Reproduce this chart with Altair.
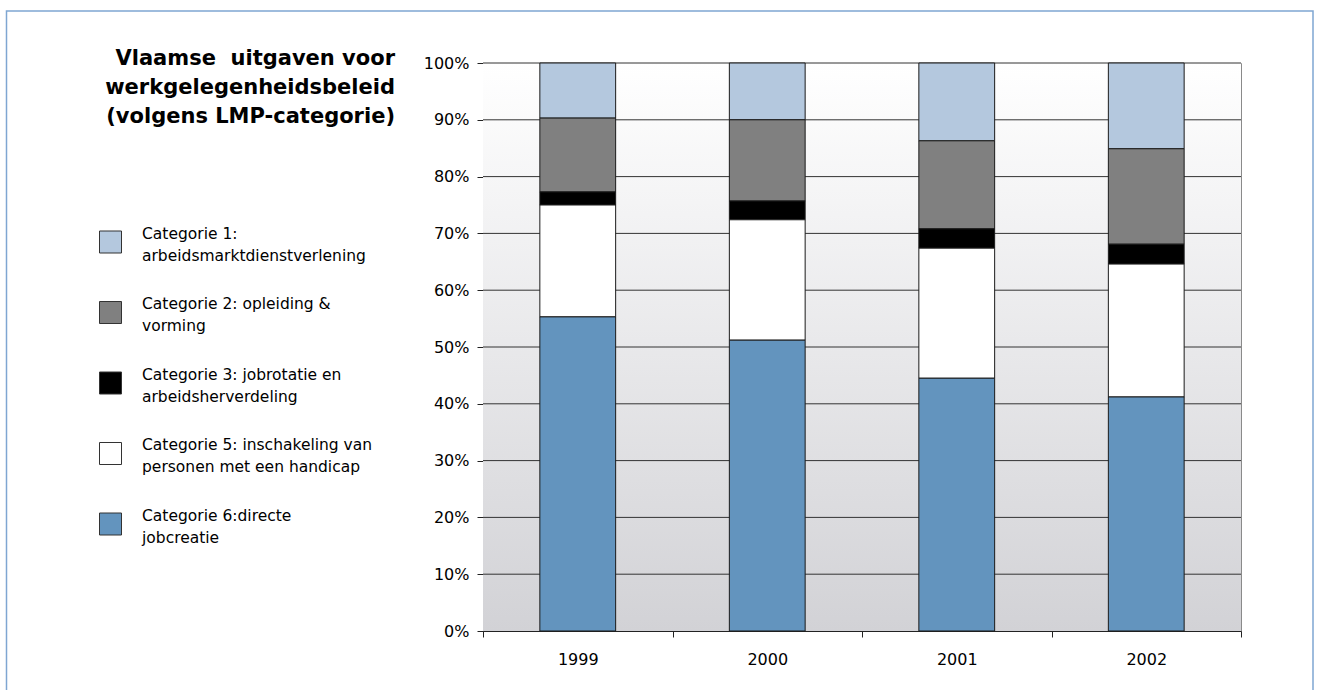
import altair as alt
import pandas as pd

years = ["1999", "2000", "2001", "2002"]
categories = [
    "Categorie 1: arbeidsmarktdienstverlening",
    "Categorie 2: opleiding & vorming",
    "Categorie 3: jobrotatie en arbeidsherverdeling",
    "Categorie 5: inschakeling van personen met een handicap",
    "Categorie 6:directe jobcreatie",
]
legend_lines = [
    ["Categorie 1:", "arbeidsmarktdienstverlening"],
    ["Categorie 2: opleiding &", "vorming"],
    ["Categorie 3: jobrotatie en", "arbeidsherverdeling"],
    ["Categorie 5: inschakeling van", "personen met een handicap"],
    ["Categorie 6:directe", "jobcreatie"],
]
colors = ["#b4c8de", "#808080", "#000000", "#ffffff", "#6394be"]
stack_order = [5, 4, 3, 2, 1]  # 1 = bottom

cat1 = [9.7, 10.0, 13.7, 15.1]
cat2 = [13.0, 14.3, 15.5, 16.8]
cat3 = [2.3, 3.3, 3.4, 3.5]
cat5 = [19.7, 21.2, 22.9, 23.4]
cat6 = [55.3, 51.2, 44.5, 41.2]
series = [cat1, cat2, cat3, cat5, cat6]

y_ticks = [0.0, 0.1, 0.2, 0.3, 0.4, 0.5, 0.6, 0.7, 0.8, 0.9, 1.0]
title_lines = ["Vlaamse\u00a0 uitgaven voor", "werkgelegenheidsbeleid", "(volgens LMP-categorie)"]

rows = []
for ci, (cat, vals) in enumerate(zip(categories, series)):
    for y, v in zip(years, vals):
        rows.append({"jaar": y, "categorie": cat, "waarde": v, "orde": stack_order[ci]})
df = pd.DataFrame(rows)
grid_df = pd.DataFrame({"v": y_ticks[1:]})

W, H = 758, 568
PL, PT = 483, 63
FONT = "DejaVu Sans"

one = alt.InlineData(values=[{"k": 1}])

background = alt.Chart(one).mark_rect(
    fill=alt.Gradient(
        gradient="linear", x1=0, y1=0, x2=0, y2=1,
        stops=[alt.GradientStop(offset=0, color="#ffffff"),
               alt.GradientStop(offset=1, color="#d2d2d6")],
    ),
    strokeWidth=0,
).encode(x=alt.value(0), x2=alt.value(W), y=alt.value(0), y2=alt.value(H))

yscale = alt.Scale(domain=[0, 1])
yaxis = alt.Axis(
    values=y_ticks, format=".0%", grid=False,
    domainColor="#222", tickColor="#222",
    tickSize=6, labelPadding=8, labelFontSize=16, labelFont=FONT,
    labelColor="#000",
)

grid = alt.Chart(grid_df).mark_rule(color="#333333", strokeWidth=1).encode(
    y=alt.Y("v:Q", scale=yscale, axis=yaxis, title=None),
)

bars = alt.Chart(df).mark_bar(
    stroke="#1a1a1a", strokeWidth=1, width=alt.RelativeBandSize(0.4)
).encode(
    x=alt.X(
        "jaar:N",
        title=None,
        scale=alt.Scale(paddingInner=0, paddingOuter=0),
        axis=alt.Axis(
            labelAngle=0, tickBand="extent", domainColor="#222", tickColor="#222",
            tickSize=6, labelPadding=14, labelFontSize=16, labelFont=FONT,
            labelColor="#000", grid=False,
        ),
    ),
    y=alt.Y("waarde:Q", stack="normalize", title=None, scale=yscale, axis=yaxis),
    color=alt.Color("categorie:N", scale=alt.Scale(domain=categories, range=colors), legend=None),
    order=alt.Order("orde:Q", sort="ascending"),
)

layers = [background, grid, bars]

# title
layers.append(
    alt.Chart(one).mark_text(
        text=title_lines, font=FONT, fontSize=21, fontWeight="bold", align="right",
        baseline="alphabetic", lineHeight=29, color="#000",
    ).encode(x=alt.value(395 - PL), y=alt.value(65 - PT))
)

# legend
for i, (lines, col) in enumerate(zip(legend_lines, colors)):
    top = 231 + 70.5 * i
    layers.append(
        alt.Chart(one).mark_rect(fill=col, stroke="#333", strokeWidth=1).encode(
            x=alt.value(99.5 - PL), x2=alt.value(121.5 - PL),
            y=alt.value(top - PT), y2=alt.value(top + 22 - PT),
        )
    )
    layers.append(
        alt.Chart(one).mark_text(
            text=lines, font=FONT, fontSize=15.5, align="left", baseline="alphabetic",
            lineHeight=22, color="#000",
        ).encode(x=alt.value(142 - PL), y=alt.value(top + 7.5 - PT))
    )

# outer frame
layers.append(
    alt.Chart(one).mark_rect(fill=None, stroke="#7fa6d2", strokeWidth=1.5, clip=False).encode(
        x=alt.value(6.5 - PL), x2=alt.value(1313 - PL),
        y=alt.value(11 - PT), y2=alt.value(700 - PT),
    )
)

chart = alt.layer(*layers).resolve_scale(y="shared").properties(
    width=W, height=H,
    padding={"left": PL, "top": PT, "right": 1318 - PL - W, "bottom": 690 - PT - H},
    autosize=alt.AutoSizeParams(type="none"),
    background="#ffffff",
).configure_view(
    stroke="#8a8a8a",
    strokeWidth=1,
)

chart.save("out.html", embed_options={"renderer": "svg", "actions": False})
